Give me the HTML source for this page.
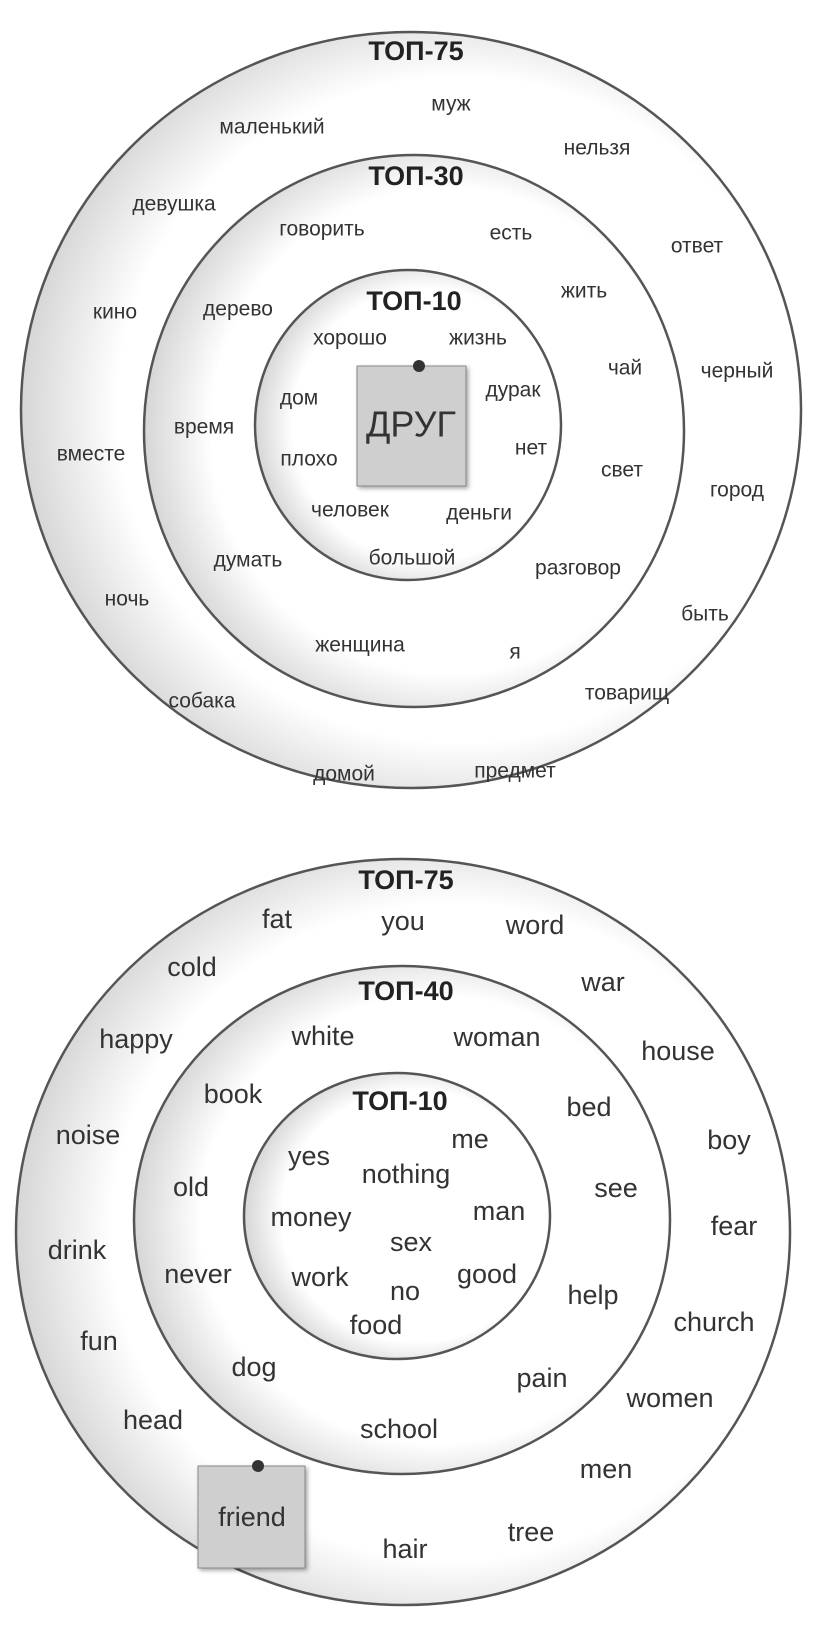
<!DOCTYPE html>
<html><head><meta charset="utf-8"><style>
html,body{margin:0;padding:0;background:#fff;}
svg{display:block;}
text{font-family:"Liberation Sans","DejaVu Sans",sans-serif;fill:#333;text-anchor:middle;dominant-baseline:central;}
.ru{font-size:21px;}
.en{font-size:27px;font-family:"DejaVu Sans","Liberation Sans",sans-serif;}
.h{font-size:27px;font-weight:bold;fill:#222;}
</style></head><body>
<svg width="829" height="1652" viewBox="0 0 829 1652" xmlns="http://www.w3.org/2000/svg">
<defs>
<radialGradient id="g" cx="0.55" cy="0.5" r="0.55" fx="0.62" fy="0.5">
<stop offset="0.8" stop-color="#ffffff"/><stop offset="1" stop-color="#d6d6d6"/>
</radialGradient>
<filter id="sh"><feDropShadow dx="2" dy="2" stdDeviation="2" flood-color="#000" flood-opacity="0.35"/></filter>
</defs>
<g stroke="#555" stroke-width="2.5" fill="url(#g)">
<ellipse cx="411" cy="410" rx="390" ry="378"/>
<ellipse cx="414" cy="431" rx="270" ry="276"/>
<ellipse cx="408" cy="425" rx="153" ry="155"/>
<ellipse cx="403" cy="1232" rx="387" ry="373"/>
<ellipse cx="402" cy="1220" rx="268" ry="254"/>
<ellipse cx="397" cy="1216" rx="153" ry="143"/>
</g>
<rect x="357" y="366" width="109" height="120" fill="#cfcfcf" stroke="#888" filter="url(#sh)"/>
<circle cx="419" cy="366" r="6" fill="#333"/>
<rect x="198" y="1466" width="107" height="102" fill="#cfcfcf" stroke="#888" filter="url(#sh)"/>
<circle cx="258" cy="1466" r="6" fill="#333"/>

<text class="h" x="416" y="51">ТОП-75</text>
<text class="h" x="416" y="176">ТОП-30</text>
<text class="h" x="414" y="301">ТОП-10</text>
<text style="font-size:36px" x="411" y="424">ДРУГ</text>
<g class="ru">
<text x="451" y="104">муж</text>
<text x="272" y="127">маленький</text>
<text x="597" y="148">нельзя</text>
<text x="174" y="204">девушка</text>
<text x="322" y="229">говорить</text>
<text x="511" y="233">есть</text>
<text x="697" y="246">ответ</text>
<text x="584" y="291">жить</text>
<text x="115" y="312">кино</text>
<text x="238" y="309">дерево</text>
<text x="350" y="338">хорошо</text>
<text x="478" y="338">жизнь</text>
<text x="625" y="368">чай</text>
<text x="737" y="371">черный</text>
<text x="299" y="398">дом</text>
<text x="513" y="390">дурак</text>
<text x="204" y="427">время</text>
<text x="91" y="454">вместе</text>
<text x="531" y="448">нет</text>
<text x="309" y="459">плохо</text>
<text x="622" y="470">свет</text>
<text x="737" y="490">город</text>
<text x="350" y="510">человек</text>
<text x="479" y="513">деньги</text>
<text x="248" y="560">думать</text>
<text x="412" y="558">большой</text>
<text x="578" y="568">разговор</text>
<text x="705" y="614">быть</text>
<text x="127" y="599">ночь</text>
<text x="360" y="645">женщина</text>
<text x="515" y="652">я</text>
<text x="627" y="693">товарищ</text>
<text x="202" y="701">собака</text>
<text x="344" y="774">домой</text>
<text x="515" y="771">предмет</text>
</g>

<text class="h" x="406" y="880">ТОП-75</text>
<text class="h" x="406" y="991">ТОП-40</text>
<text class="h" x="400" y="1101">ТОП-10</text>
<g class="en">
<text x="277" y="919">fat</text>
<text x="403" y="921">you</text>
<text x="535" y="925">word</text>
<text x="192" y="967">cold</text>
<text x="603" y="982">war</text>
<text x="136" y="1039">happy</text>
<text x="323" y="1036">white</text>
<text x="497" y="1037">woman</text>
<text x="678" y="1051">house</text>
<text x="233" y="1094">book</text>
<text x="589" y="1107">bed</text>
<text x="88" y="1135">noise</text>
<text x="470" y="1139">me</text>
<text x="309" y="1156">yes</text>
<text x="729" y="1140">boy</text>
<text x="406" y="1174">nothing</text>
<text x="191" y="1187">old</text>
<text x="616" y="1188">see</text>
<text x="311" y="1217">money</text>
<text x="499" y="1211">man</text>
<text x="734" y="1226">fear</text>
<text x="411" y="1242">sex</text>
<text x="77" y="1250">drink</text>
<text x="198" y="1274">never</text>
<text x="320" y="1277">work</text>
<text x="487" y="1274">good</text>
<text x="405" y="1291">no</text>
<text x="593" y="1295">help</text>
<text x="714" y="1322">church</text>
<text x="376" y="1325">food</text>
<text x="99" y="1341">fun</text>
<text x="254" y="1367">dog</text>
<text x="542" y="1378">pain</text>
<text x="670" y="1398">women</text>
<text x="153" y="1420">head</text>
<text x="399" y="1429">school</text>
<text x="606" y="1469">men</text>
<text x="252" y="1517">friend</text>
<text x="531" y="1532">tree</text>
<text x="405" y="1549">hair</text>
</g>
</svg>
</body></html>
